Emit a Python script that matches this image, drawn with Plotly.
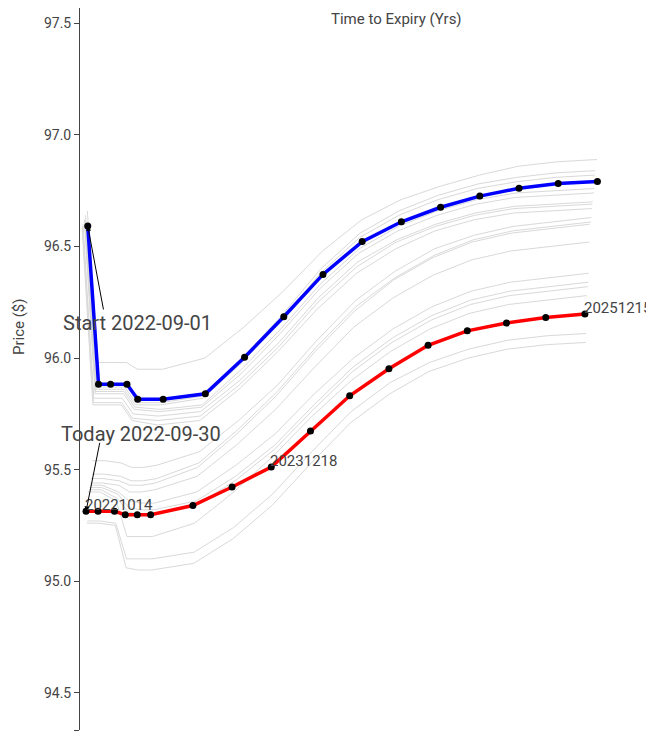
import plotly.graph_objects as go
from datetime import date

# ---------------- data ----------------
expiries_early = ["2022-09-19", "2022-10-14", "2022-11-11", "2022-12-19", "2023-01-13",
                  "2023-03-13", "2023-06-19", "2023-09-18", "2023-12-18", "2024-03-18",
                  "2024-06-17", "2024-09-16", "2024-12-16", "2025-03-17", "2025-06-16",
                  "2025-09-15", "2025-12-15"]
expiries_late = ["2022-10-14", "2022-11-11", "2022-12-19", "2023-01-13", "2023-02-10",
                 "2023-03-13", "2023-06-19", "2023-09-18", "2023-12-18", "2024-03-18",
                 "2024-06-17", "2024-09-16", "2024-12-16", "2025-03-17", "2025-06-16",
                 "2025-09-15", "2025-12-15"]

start_date = "2022-09-01"
today_date = "2022-09-30"

start_prices = [96.592, 95.883, 95.883, 95.883, 95.815, 95.815, 95.840, 96.004, 96.185,
                96.375, 96.522, 96.611, 96.676, 96.726, 96.761, 96.782, 96.791]
today_prices = [95.313, 95.313, 95.313, 95.298, 95.298, 95.298, 95.339, 95.422, 95.512,
                95.673, 95.831, 95.952, 96.057, 96.122, 96.157, 96.182, 96.197]

hist_dates_early = ["2022-09-02", "2022-09-06", "2022-09-07", "2022-09-08",
                    "2022-09-09", "2022-09-12", "2022-09-13", "2022-09-14"]
hist_prices_early = [
    [96.66, 95.98, 95.98, 95.98, 95.95, 95.95, 96.00, 96.14, 96.30, 96.48, 96.62, 96.71, 96.77, 96.82, 96.86, 96.88, 96.89],
    [96.64, 95.87, 95.87, 95.87, 95.80, 95.80, 95.83, 96.00, 96.19, 96.40, 96.56, 96.66, 96.73, 96.78, 96.81, 96.83, 96.84],
    [96.62, 95.86, 95.86, 95.86, 95.79, 95.79, 95.82, 95.98, 96.17, 96.38, 96.54, 96.64, 96.71, 96.76, 96.79, 96.81, 96.82],
    [96.61, 95.85, 95.85, 95.85, 95.78, 95.77, 95.79, 95.95, 96.13, 96.33, 96.49, 96.59, 96.66, 96.71, 96.74, 96.75, 96.76],
    [96.62, 95.84, 95.84, 95.84, 95.77, 95.76, 95.78, 95.93, 96.11, 96.31, 96.47, 96.57, 96.64, 96.69, 96.72, 96.73, 96.74],
    [96.60, 95.82, 95.82, 95.82, 95.75, 95.74, 95.76, 95.90, 96.07, 96.27, 96.43, 96.53, 96.60, 96.65, 96.68, 96.69, 96.70],
    [96.59, 95.80, 95.80, 95.80, 95.73, 95.72, 95.74, 95.88, 96.05, 96.25, 96.41, 96.52, 96.59, 96.64, 96.67, 96.68, 96.69],
    [96.58, 95.79, 95.79, 95.79, 95.72, 95.70, 95.72, 95.86, 96.03, 96.22, 96.38, 96.49, 96.57, 96.62, 96.65, 96.66, 96.67],
]
hist_dates_late = ["2022-09-15", "2022-09-16", "2022-09-19", "2022-09-20", "2022-09-21",
                   "2022-09-22", "2022-09-23", "2022-09-26", "2022-09-27", "2022-09-28"]
hist_prices_late = [
    [95.54, 95.54, 95.53, 95.51, 95.51, 95.52, 95.58, 95.72, 95.88, 96.08, 96.26, 96.39, 96.49, 96.55, 96.59, 96.61, 96.63],
    [95.48, 95.48, 95.47, 95.45, 95.45, 95.46, 95.53, 95.68, 95.85, 96.05, 96.23, 96.36, 96.46, 96.53, 96.57, 96.59, 96.61],
    [95.46, 95.46, 95.45, 95.43, 95.43, 95.44, 95.51, 95.66, 95.83, 96.03, 96.21, 96.35, 96.45, 96.52, 96.56, 96.58, 96.60],
    [95.44, 95.44, 95.43, 95.40, 95.40, 95.41, 95.47, 95.61, 95.77, 95.96, 96.14, 96.27, 96.37, 96.44, 96.48, 96.50, 96.52],
    [95.43, 95.43, 95.40, 95.36, 95.35, 95.35, 95.40, 95.52, 95.66, 95.84, 96.00, 96.13, 96.23, 96.30, 96.34, 96.36, 96.38],
    [95.42, 95.42, 95.39, 95.33, 95.32, 95.32, 95.36, 95.47, 95.61, 95.79, 95.96, 96.09, 96.19, 96.26, 96.30, 96.32, 96.34],
    [95.41, 95.41, 95.37, 95.31, 95.30, 95.30, 95.34, 95.45, 95.59, 95.77, 95.94, 96.07, 96.17, 96.24, 96.28, 96.30, 96.32],
    [95.40, 95.40, 95.36, 95.20, 95.20, 95.20, 95.26, 95.40, 95.56, 95.74, 95.90, 96.03, 96.13, 96.20, 96.24, 96.26, 96.28],
    [95.27, 95.27, 95.26, 95.10, 95.10, 95.10, 95.13, 95.24, 95.39, 95.58, 95.76, 95.89, 95.98, 96.04, 96.08, 96.10, 96.11],
    [95.26, 95.26, 95.25, 95.06, 95.05, 95.05, 95.08, 95.19, 95.34, 95.53, 95.71, 95.84, 95.94, 96.00, 96.04, 96.06, 96.07],
]

label_idx = [0, 8, 16]  # today's contracts that get an expiry label

y_range = [94.333, 97.569]
y_ticks = [94.333, 94.5, 95.0, 95.5, 96.0, 96.5, 97.0, 97.5]
y_tick_text = ["", "94.5", "95.0", "95.5", "96.0", "96.5", "97.0", "97.5"]
x_range = [0, 4]


def tte(curve_date, expiries):
    d0 = date.fromisoformat(curve_date)
    return [(date.fromisoformat(e) - d0).days / 365 for e in expiries]


FONT = "Roboto, 'Open Sans', sans-serif"
fig = go.Figure()

for d, p in zip(hist_dates_early, hist_prices_early):
    fig.add_trace(go.Scatter(x=tte(d, expiries_early), y=p, mode="lines",
                             line=dict(color="#d9d9d9", width=1), hoverinfo="skip",
                             showlegend=False))
for d, p in zip(hist_dates_late, hist_prices_late):
    fig.add_trace(go.Scatter(x=tte(d, expiries_late), y=p, mode="lines",
                             line=dict(color="#d9d9d9", width=1), hoverinfo="skip",
                             showlegend=False))

x_start = tte(start_date, expiries_early)
x_today = tte(today_date, expiries_late)

fig.add_trace(go.Scatter(x=x_start, y=start_prices, mode="lines+markers",
                         line=dict(color="blue", width=3.5),
                         marker=dict(color="black", size=7), showlegend=False))
fig.add_trace(go.Scatter(x=x_today, y=today_prices, mode="lines+markers",
                         line=dict(color="red", width=3.5),
                         marker=dict(color="black", size=7), showlegend=False))

for i in label_idx:
    fig.add_annotation(x=x_today[i], y=today_prices[i],
                       text=expiries_late[i].replace("-", ""), showarrow=False,
                       xanchor="left", yanchor="bottom", xshift=-3, yshift=-5,
                       font=dict(family=FONT, size=15, color="#444"))

fig.add_annotation(x=x_start[0], y=start_prices[0], text="", showarrow=True,
                   arrowhead=2, arrowsize=1, arrowwidth=1, arrowcolor="black",
                   ax=16, ay=85)
fig.add_annotation(x=x_start[0], y=start_prices[0], text="Start " + start_date,
                   showarrow=False, xanchor="left", yanchor="middle",
                   xshift=-27, yshift=-97,
                   font=dict(family=FONT, size=20, color="#444"))
fig.add_annotation(x=x_today[0], y=today_prices[0], text="", showarrow=True,
                   arrowhead=2, arrowsize=1, arrowwidth=1, arrowcolor="black",
                   ax=14, ay=-70)
fig.add_annotation(x=x_today[0], y=today_prices[0], text="Today " + today_date,
                   showarrow=False, xanchor="left", yanchor="middle",
                   xshift=-27, yshift=77,
                   font=dict(family=FONT, size=20, color="#444"))

# axis titles
fig.add_annotation(xref="paper", yref="paper", x=0.5024, y=1, yanchor="top",
                   text="Time to Expiry (Yrs)", showarrow=False,
                   font=dict(family=FONT, size=15, color="#444"))
fig.add_annotation(xref="paper", yref="paper", x=0, xshift=-72, y=0.5582,
                   text="Price ($)", textangle=-90, showarrow=False,
                   font=dict(family=FONT, size=15, color="#444"))

fig.update_layout(
    width=760, height=741,
    margin=dict(l=72, r=59, t=0, b=19),
    paper_bgcolor="white", plot_bgcolor="white",
    font=dict(family=FONT, size=14, color="#444"),
    showlegend=False,
)
fig.update_xaxes(range=x_range, showgrid=False, zeroline=False, showline=False,
                 showticklabels=False, ticks="")
fig.update_yaxes(range=y_range, tickvals=y_ticks, ticktext=y_tick_text,
                 showgrid=False, zeroline=False, showline=True, linecolor="#444",
                 linewidth=1, ticks="outside", ticklen=5, tickcolor="#444")

fig.write_html("out.html")
